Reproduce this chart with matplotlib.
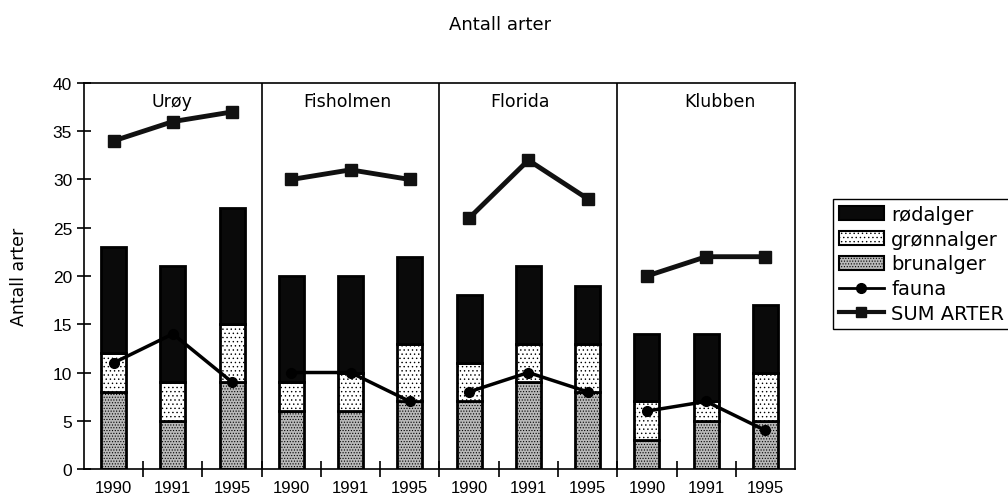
import matplotlib.pyplot as plt
from matplotlib.patches import Patch
from matplotlib.lines import Line2D
import numpy as np

sites = ["Urøy", "Fisholmen", "Florida", "Klubben"]
years = ["1990", "1991", "1995"]

# verdier per stasjon og år (Urøy, Fisholmen, Florida, Klubben)
brunalger = [8, 5, 9, 6, 6, 7, 7, 9, 8, 3, 5, 5]
gronnalger = [4, 4, 6, 3, 4, 6, 4, 4, 5, 4, 2, 5]
rodalger = [11, 12, 12, 11, 10, 9, 7, 8, 6, 7, 7, 7]
fauna = [11, 14, 9, 10, 10, 7, 8, 10, 8, 6, 7, 4]
sum_arter = [34, 36, 37, 30, 31, 30, 26, 32, 28, 20, 22, 22]

site_label_x = [0.98, 3.94, 6.86, 10.23]

fig = plt.figure(figsize=(10.08, 5.02), dpi=100)
ax = fig.add_axes([0.0833, 0.0637, 0.7054, 0.769])

x = np.arange(len(brunalger))
brun = np.array(brunalger)
gronn = np.array(gronnalger)
rod = np.array(rodalger)
w = 0.42

plt.rcParams['hatch.color'] = '#888888'
plt.rcParams['hatch.linewidth'] = 0.5
ax.bar(x, brun, w, color='#b8b8b8', edgecolor='black', linewidth=2, hatch='......', zorder=2)
ax.bar(x, gronn, w, bottom=brun, color='white', edgecolor='black', linewidth=2, hatch='....', zorder=2)
ax.bar(x, rod, w, bottom=brun + gronn, color='#0a0a0a', edgecolor='black', linewidth=2, zorder=2)

for i in range(len(sites)):
    s = slice(i * 3, i * 3 + 3)
    ax.plot(x[s], np.array(fauna)[s], color='black', lw=2.5, marker='o', ms=7, zorder=4)
    ax.plot(x[s], np.array(sum_arter)[s], color='#111111', lw=3.5, marker='s', ms=8, zorder=4)
    ax.text(site_label_x[i], 38.1, sites[i], ha='center', va='center', fontsize=12.5, family='DejaVu Sans')

for b in [2.5, 5.5, 8.5]:
    ax.axvline(b, color='black', lw=1.2, zorder=1)

ax.set_xlim(-0.5, 11.5)
ax.set_ylim(0, 40)
ax.set_yticks(range(0, 41, 5))
ax.set_xticks(x)
ax.set_xticklabels(years * 4, fontsize=12, family='Liberation Sans')
ax.set_xticks(np.arange(0.5, 11.5, 1), minor=True)
ax.tick_params(axis='x', which='major', length=0, pad=8)
ax.tick_params(axis='x', which='minor', direction='inout', length=12, width=1.2)
ax.tick_params(axis='y', direction='inout', length=10, width=1.2, labelsize=12.5)
for lab in ax.get_yticklabels():
    lab.set_family('Liberation Sans')
for sp in ax.spines.values():
    sp.set_linewidth(1.2)

ax.set_ylabel("Antall arter", fontsize=12.5, family='DejaVu Sans', labelpad=18)
fig.text(0.496, 0.95, "Antall arter", ha='center', va='center', fontsize=13, family='DejaVu Sans')

handles = [
    Patch(facecolor='#0a0a0a', edgecolor='black', linewidth=1.5),
    Patch(facecolor='white', edgecolor='black', linewidth=1.5, hatch='....'),
    Patch(facecolor='#b8b8b8', edgecolor='black', linewidth=1.5, hatch='......'),
    Line2D([], [], color='black', lw=2, marker='o', ms=7),
    Line2D([], [], color='#111111', lw=3, marker='s', ms=7),
]
labels = ["rødalger", "grønnalger", "brunalger", "fauna", "SUM ARTER"]
fig.legend(handles, labels, loc='upper left', bbox_to_anchor=(833 / 1008, 1 - 200 / 502),
           frameon=True, fancybox=False, edgecolor='black', framealpha=1,
           prop={'family': 'DejaVu Sans', 'size': 14}, handlelength=2.3,
           handletextpad=0.4, labelspacing=0.3, borderpad=0.3, borderaxespad=0)

fig.savefig("out.png", dpi=100)
